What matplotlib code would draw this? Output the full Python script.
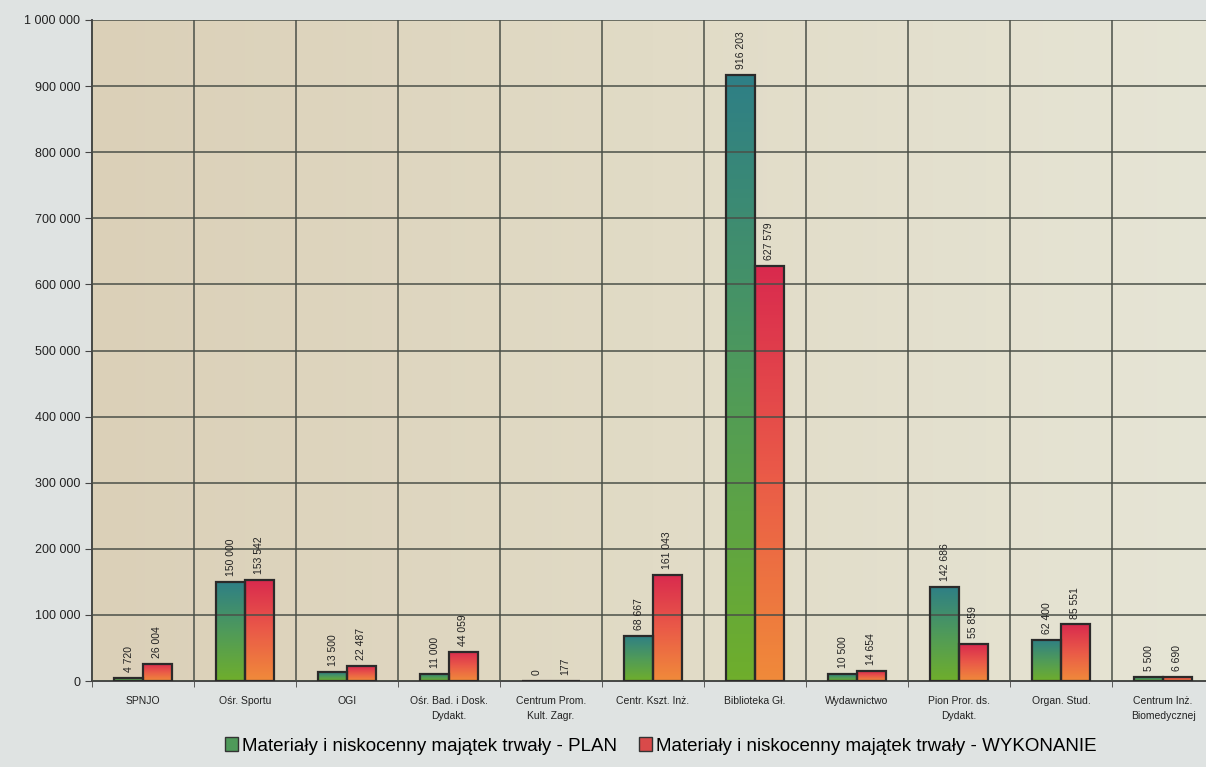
import matplotlib
matplotlib.use("Agg")
import matplotlib.pyplot as plt
import numpy as np
from matplotlib.colors import LinearSegmentedColormap
from matplotlib.patches import Patch
from matplotlib.ticker import FuncFormatter, FixedLocator

plt.rcParams["font.family"] = ["Liberation Sans", "DejaVu Sans"]

# dane: jednostki i kwoty planu / wykonania
jednostki = [
    "SPNJO", "Ośr. Sportu", "OGI", "Ośr. Bad. i Dosk.\nDydakt.",
    "Centrum Prom.\nKult. Zagr.", "Centr. Kszt. Inż.", "Biblioteka Gł.",
    "Wydawnictwo", "Pion Pror. ds.\nDydakt.", "Organ. Stud.",
    "Centrum Inż.\nBiomedycznej",
]
plan = [4720, 150000, 13500, 11000, 0, 68667, 916203, 10500, 142686, 62400, 5500]
wykonanie = [26004, 153542, 22487, 44059, 177, 161043, 627579, 14654, 55859, 85551, 6690]
etykiety_legendy = [
    "Materiały i niskocenny majątek trwały - PLAN",
    "Materiały i niskocenny majątek trwały - WYKONANIE",
]

cmap_plan = LinearSegmentedColormap.from_list("plan", ["#6fae2c", "#4f9a5a", "#2e7f86"])
cmap_wyk = LinearSegmentedColormap.from_list("wyk", ["#f08a3a", "#ea5a48", "#d92a4e"])

fig = plt.figure(figsize=(12.06, 7.67), dpi=100)
fig.patch.set_facecolor("#dfe3e2")
ax = fig.add_axes([92 / 1206, 1 - 681 / 767, 1122 / 1206, (681 - 20) / 767])

n = len(jednostki)
ax.set_xlim(-0.5, n - 0.5)
ax.set_ylim(0, 1_000_000)

# tło obszaru wykresu - beżowe przejście
tlo = LinearSegmentedColormap.from_list("tlo", ["#dbd0b8", "#e1dbc6", "#e6e5d6"])
ax.imshow(np.linspace(0, 1, 256).reshape(1, -1), cmap=tlo, aspect="auto",
          extent=[-0.5, n - 0.5, 0, 1_000_000], zorder=0)

szer = 0.28
x = np.arange(n)


def slupek(xc, h, cmap):
    bar = ax.bar(xc, h, szer, color="none", edgecolor="#2b2a2a", linewidth=1.6, zorder=3)[0]
    if h > 0:
        grad = np.linspace(0, 1, 128).reshape(-1, 1)
        im = ax.imshow(grad, cmap=cmap, aspect="auto", origin="lower",
                       extent=[xc - szer / 2, xc + szer / 2, 0, h], zorder=2)
        im.set_clip_path(bar)
    return bar


for i in range(n):
    slupek(x[i] - szer / 2, plan[i], cmap_plan)
    slupek(x[i] + szer / 2, wykonanie[i], cmap_wyk)

fmt = lambda v: f"{v:,.0f}".replace(",", " ")

for i in range(n):
    for xc, v in ((x[i] - szer / 2, plan[i]), (x[i] + szer / 2, wykonanie[i])):
        ax.text(xc, v + 9000, fmt(v), rotation=90, ha="center", va="bottom",
                fontsize=7.5, color="#222222", zorder=4)

# osie i siatka
ax.yaxis.set_major_locator(FixedLocator(np.arange(0, 1_000_001, 100_000)))
ax.yaxis.set_major_formatter(FuncFormatter(lambda v, p: fmt(v)))
ax.set_xticks(x)
ax.set_xticklabels(jednostki, fontsize=7.5, color="#222222", linespacing=1.6)
ax.set_xticks(np.arange(-0.5, n, 1), minor=True)
ax.tick_params(axis="x", which="major", length=0, pad=11)
ax.tick_params(axis="x", which="minor", length=4, color="#444444", direction="out")
ax.tick_params(axis="y", labelsize=9, length=5, color="#444444", labelcolor="#222222")
ax.grid(axis="y", which="major", color="#4b5048", linewidth=1.1, zorder=1)
ax.grid(axis="x", which="minor", color="#4b5048", linewidth=1.1, zorder=1)
ax.set_axisbelow(False)
for s in ("top", "right"):
    ax.spines[s].set_visible(False)
ax.spines["left"].set_color("#3a3a3a")
ax.spines["bottom"].set_color("#3a3a3a")
ax.spines["left"].set_linewidth(1.3)
ax.spines["bottom"].set_linewidth(1.3)

uchwyty = [Patch(facecolor="#4f9a5a", edgecolor="#333333"),
           Patch(facecolor="#d94a4a", edgecolor="#333333")]
fig.legend(uchwyty, etykiety_legendy, loc="center", bbox_to_anchor=(0.548, 1 - 746 / 767),
           ncol=2, frameon=False, fontsize=13.5, handlelength=0.7, handleheight=0.7,
           handletextpad=0.2, columnspacing=1.2)

fig.savefig("out.png", dpi=100, facecolor=fig.get_facecolor())
